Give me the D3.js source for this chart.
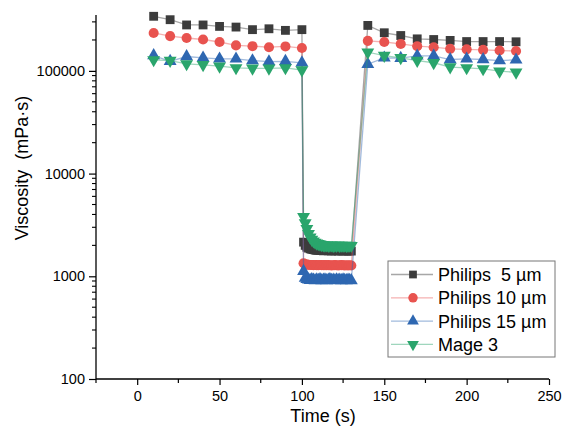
<!DOCTYPE html>
<html>
<head>
<meta charset="utf-8">
<script src="https://cdn.jsdelivr.net/npm/d3@7"></script>
<style>
body { margin: 0; background: #fff; }
text { font-family: "Liberation Sans", Arial, sans-serif; }
</style>
</head>
<body>
<svg id="mainSvg" width="563" height="435"></svg>
<script>
// time points (s): 10..100, dense 101..130, 140..230
var times = [10, 20, 30, 40, 50, 60, 70, 80, 90, 100,
	101, 102, 103, 104, 105, 106, 107, 108, 109, 110,
	111, 112, 113, 114, 115, 116, 117, 118, 119, 120,
	121, 122, 123, 124, 125, 126, 127, 128, 129, 130,
	140, 150, 160, 170, 180, 190, 200, 210, 220, 230];

var philips5 = [340000, 315000, 280000, 280000, 271000, 267000, 252000, 257000, 248000, 252000,
	2150, 2000, 1920, 1880, 1850, 1830, 1820, 1800, 1790, 1800,
	1780, 1790, 1770, 1780, 1790, 1770, 1780, 1760, 1780, 1770,
	1790, 1760, 1780, 1770, 1760, 1780, 1770, 1760, 1770, 1760,
	277000, 235000, 221000, 205000, 202000, 198000, 193000, 193000, 193000, 192000];

var philips10 = [234000, 218000, 209000, 202000, 191000, 177000, 174000, 170000, 173000, 167000,
	1340, 1310, 1300, 1295, 1290, 1290, 1285, 1290, 1285, 1280,
	1290, 1285, 1280, 1285, 1280, 1285, 1280, 1275, 1280, 1285,
	1280, 1275, 1280, 1285, 1280, 1275, 1280, 1275, 1280, 1275,
	196000, 191000, 183000, 174000, 170000, 164000, 162000, 160000, 158000, 156000];

var philips15 = [141000, 124000, 138000, 134000, 131000, 131000, 126000, 123000, 124000, 120000,
	1120, 960, 935, 925, 915, 930, 920, 910, 925, 915,
	930, 910, 920, 925, 910, 920, 930, 915, 920, 910,
	925, 915, 920, 910, 925, 915, 910, 920, 915, 910,
	116000, 134000, 133000, 140000, 140000, 129000, 131000, 129000, 126000, 128000];

var mage3 = [128000, 126000, 117000, 114500, 111000, 107000, 106000, 106000, 107000, 102000,
	3800, 3300, 2900, 2600, 2400, 2280, 2200, 2140, 2100, 2070,
	2050, 2030, 2020, 2000, 2010, 1990, 2000, 2010, 1980, 2000,
	1990, 2010, 1980, 2000, 1990, 2000, 1980, 1990, 2000, 1990,
	152000, 141000, 134000, 126000, 120000, 109000, 107000, 104500, 99300, 97000];

var seriesNames = ["Philips  5 \u00b5m", "Philips 10 \u00b5m", "Philips 15 \u00b5m", "Mage 3"];
var seriesColors = ["#3c3c3c", "#e8534f", "#2e67b1", "#2aa56c"];
var seriesSymbols = [d3.symbolSquare, d3.symbolCircle, d3.symbolTriangle, d3.symbolTriangle];
var seriesRotate = [0, 0, 0, 180];
var seriesValues = [philips5, philips10, philips15, mage3];

var xTicks = [0, 50, 100, 150, 200, 250];
var yTicks = [100, 1000, 10000, 100000];

var margin = {left: 96, right: 14, top: 15, bottom: 56};
var width = 563, height = 435;

var x = d3.scaleLinear().domain([-25, 250]).range([margin.left, width - margin.right]);
var y = d3.scaleLog().domain([100, 350000]).range([height - margin.bottom, margin.top]);

var mainSvg = d3.select("#mainSvg");

// lines and markers
var line = d3.line().x(function(d) { return x(d.t); }).y(function(d) { return y(d.v); });
for(var s = 0; s < seriesValues.length; s++)
{
	var pts = times.map(function(t, i) { return {t: t, v: seriesValues[s][i]}; });
	mainSvg.append("path").datum(pts).attr("d", line).attr("fill", "none")
		.attr("stroke", seriesColors[s]).attr("stroke-opacity", 0.45).attr("stroke-width", 1.3);
	var sym = d3.symbol().type(seriesSymbols[s]).size(s == 1 ? 80 : (s == 0 ? 78 : 72));
	var rot = seriesRotate[s];
	mainSvg.append("g").selectAll("path").data(pts).enter().append("path")
		.attr("d", sym)
		.attr("transform", function(d) { return "translate(" + x(d.t) + "," + y(d.v) + ") rotate(" + rot + ")"; })
		.attr("fill", seriesColors[s]);
}

// x axis
var xMinor = d3.range(-25, 251, 25).filter(function(v) { return v % 50 != 0; });
var gx = mainSvg.append("g").attr("transform", "translate(0," + y(100) + ")");
gx.call(d3.axisBottom(x).tickValues(xTicks).tickSize(6).tickPadding(6).tickFormat(d3.format("d")));
gx.selectAll("line.minor").data(xMinor).enter().append("line").attr("class", "minor")
	.attr("x1", function(d) { return x(d); }).attr("x2", function(d) { return x(d); })
	.attr("y1", 0).attr("y2", 4).attr("stroke", "#000").attr("stroke-width", 1.2);
gx.select(".domain").attr("d", "M" + x(-25) + ",0H" + x(250)).attr("stroke-width", 1.3);
gx.selectAll(".tick line").attr("stroke-width", 1.2);
gx.selectAll(".tick text").attr("font-size", "14.5px").attr("font-family", "Liberation Sans, Arial, sans-serif").attr("fill", "#000");

// y axis
var yMinor = [];
[100, 1000, 10000, 100000].forEach(function(dec) {
	for(var k = 2; k <= 9; k++)
		if(dec * k <= 350000) yMinor.push(dec * k);
});
var gy = mainSvg.append("g").attr("transform", "translate(" + x(-25) + ",0)");
gy.call(d3.axisLeft(y).tickValues(yTicks).tickSize(7).tickPadding(4).tickFormat(d3.format("d")));
gy.selectAll("line.minor").data(yMinor).enter().append("line").attr("class", "minor")
	.attr("x1", -4).attr("x2", 0)
	.attr("y1", function(d) { return y(d); }).attr("y2", function(d) { return y(d); })
	.attr("stroke", "#000").attr("stroke-width", 1.1);
gy.select(".domain").attr("d", "M0," + y(350000) + "V" + y(100)).attr("stroke-width", 1.3);
gy.selectAll(".tick line").attr("stroke-width", 1.2);
gy.selectAll(".tick text").attr("font-size", "14.5px").attr("font-family", "Liberation Sans, Arial, sans-serif").attr("fill", "#000");

// axis titles
mainSvg.append("text").attr("x", 323).attr("y", 422).attr("text-anchor", "middle")
	.attr("font-size", "18px").text("Time (s)");
mainSvg.append("text").attr("transform", "translate(28,168) rotate(-90)").attr("text-anchor", "middle")
	.attr("font-size", "18px").style("white-space", "pre").text("Viscosity  (mPa\u00b7s)");

// legend
var legend = mainSvg.append("g").attr("transform", "translate(388,261)");
legend.append("rect").attr("x", 0).attr("y", 0).attr("width", 167).attr("height", 96)
	.attr("fill", "#fff").attr("stroke", "#777").attr("stroke-width", 1);
var rows = legend.selectAll("g.row").data(seriesNames).enter().append("g").attr("class", "row")
	.attr("transform", function(d, i) { return "translate(0," + (13.5 + i * 23.3) + ")"; });
rows.append("line").attr("x1", 3).attr("x2", 45).attr("y1", 0).attr("y2", 0)
	.attr("stroke", function(d, i) { return seriesColors[i]; }).attr("stroke-opacity", 0.45).attr("stroke-width", 1.3);
rows.append("path")
	.attr("d", function(d, i) { return d3.symbol().type(seriesSymbols[i]).size(i == 1 ? 70 : 60)(); })
	.attr("transform", function(d, i) { return "translate(25,0) rotate(" + seriesRotate[i] + ")"; })
	.attr("fill", function(d, i) { return seriesColors[i]; });
rows.append("text").attr("x", 50).attr("y", 6.5).attr("font-size", "18px").style("white-space", "pre")
	.text(function(d) { return d; });
</script>
</body>
</html>
